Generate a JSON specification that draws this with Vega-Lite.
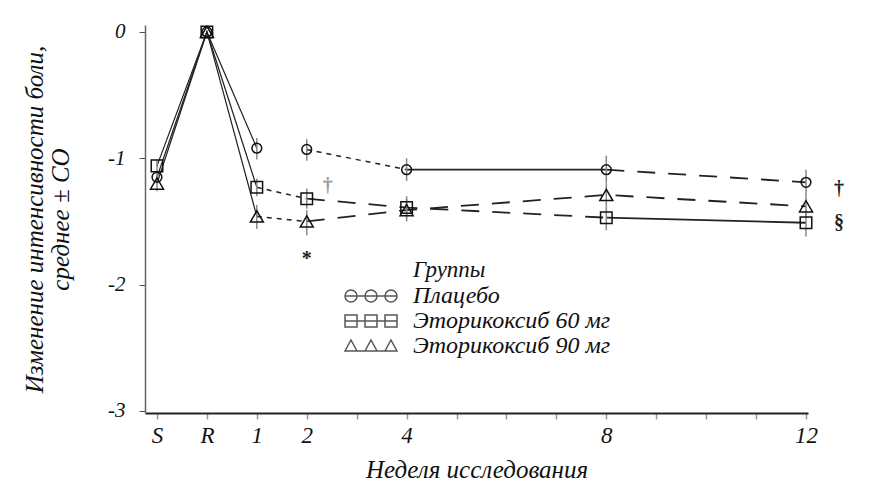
{
  "$schema": "https://vega.github.io/schema/vega-lite/v6.json",
  "autosize": "none",
  "width": 663,
  "height": 388,
  "padding": {"left": 145, "top": 25, "right": 62, "bottom": 80},
  "background": "white",
  "config": {
    "font": "Liberation Serif",
    "view": {"stroke": null},
    "axis": {"labelFont": "Liberation Serif", "titleFont": "Liberation Serif", "labelFontStyle": "italic", "titleFontStyle": "italic", "titleFontWeight": "normal", "labelColor": "#111", "titleColor": "#111", "grid": false},
    "legend": {"labelFont": "Liberation Serif", "titleFont": "Liberation Serif"}
  },
  "datasets": {
    "pts": [
      {"group": "Плацебо", "week": "S", "idx": 0, "value": -1.15, "lo": -1.2, "hi": -1.1},
      {"group": "Плацебо", "week": "R", "idx": 1, "value": 0, "lo": 0, "hi": 0},
      {"group": "Плацебо", "week": "1", "idx": 2, "value": -0.92, "lo": -1.01, "hi": -0.84},
      {"group": "Плацебо", "week": "2", "idx": 3, "value": -0.93, "lo": -1.02, "hi": -0.85},
      {"group": "Плацебо", "week": "4", "idx": 5, "value": -1.09, "lo": -1.18, "hi": -1.0},
      {"group": "Плацебо", "week": "8", "idx": 9, "value": -1.09, "lo": -1.2, "hi": -0.98},
      {"group": "Плацебо", "week": "12", "idx": 13, "value": -1.19, "lo": -1.3, "hi": -1.09},
      {"group": "Эторикоксиб 60 мг", "week": "S", "idx": 0, "value": -1.06, "lo": -1.11, "hi": -1.01},
      {"group": "Эторикоксиб 60 мг", "week": "R", "idx": 1, "value": 0, "lo": 0, "hi": 0},
      {"group": "Эторикоксиб 60 мг", "week": "1", "idx": 2, "value": -1.23, "lo": -1.3, "hi": -1.16},
      {"group": "Эторикоксиб 60 мг", "week": "2", "idx": 3, "value": -1.32, "lo": -1.4, "hi": -1.24},
      {"group": "Эторикоксиб 60 мг", "week": "4", "idx": 5, "value": -1.39, "lo": -1.48, "hi": -1.3},
      {"group": "Эторикоксиб 60 мг", "week": "8", "idx": 9, "value": -1.47, "lo": -1.57, "hi": -1.38},
      {"group": "Эторикоксиб 60 мг", "week": "12", "idx": 13, "value": -1.51, "lo": -1.62, "hi": -1.41},
      {"group": "Эторикоксиб 90 мг", "week": "S", "idx": 0, "value": -1.2, "lo": -1.26, "hi": -1.14},
      {"group": "Эторикоксиб 90 мг", "week": "R", "idx": 1, "value": 0, "lo": 0, "hi": 0},
      {"group": "Эторикоксиб 90 мг", "week": "1", "idx": 2, "value": -1.46, "lo": -1.56, "hi": -1.37},
      {"group": "Эторикоксиб 90 мг", "week": "2", "idx": 3, "value": -1.5, "lo": -1.61, "hi": -1.41},
      {"group": "Эторикоксиб 90 мг", "week": "4", "idx": 5, "value": -1.41, "lo": -1.5, "hi": -1.32},
      {"group": "Эторикоксиб 90 мг", "week": "8", "idx": 9, "value": -1.29, "lo": -1.38, "hi": -1.2},
      {"group": "Эторикоксиб 90 мг", "week": "12", "idx": 13, "value": -1.38, "lo": -1.47, "hi": -1.3}
    ],
    "notes": [
      {"x": 3.42, "y": -1.22, "label": "†", "kind": "grey"},
      {"x": 3.0, "y": -1.8, "label": "*", "kind": "black"},
      {"x": 13.66, "y": -1.24, "label": "†", "kind": "black"},
      {"x": 13.66, "y": -1.51, "label": "§", "kind": "black"}
    ]
  },
  "data": {"name": "pts"},
  "encoding": {
    "x": {
      "field": "idx", "type": "quantitative",
      "scale": {"domain": [-0.24, 13.04], "nice": false, "zero": false},
      "axis": {
        "title": "Неделя исследования", "titleFontSize": 25, "titlePadding": 10,
        "values": [0,1,2,3,4,5,6,7,8,9,10,11,12,13],
        "labelExpr": "datum.value == 0 ? 'S' : datum.value == 1 ? 'R' : datum.value == 2 ? '1' : datum.value == 3 ? '2' : datum.value == 5 ? '4' : datum.value == 9 ? '8' : datum.value == 13 ? '12' : ''",
        "labelFontSize": 23, "labelPadding": 5, "tickSize": 6, "tickColor": "#999", "tickWidth": 1.5,
        "domainColor": "#222", "domainWidth": 2, "labelFlush": false, "labelOverlap": false
      }
    },
    "y": {
      "field": "value", "type": "quantitative",
      "scale": {"domain": [-3.016, 0.055], "nice": false, "zero": false},
      "axis": {
        "title": ["Изменение интенсивности боли,", "среднее ± СО"], "titleFontSize": 25, "titleLineHeight": 26, "titlePadding": 34,
        "values": [0, -1, -2, -3], "labelFontSize": 21, "labelPadding": 14,
        "labelExpr": "datum.value == 0 ? '0' : '-' + abs(datum.value)",
        "tickSize": 6, "tickColor": "#555", "domainColor": "#666", "domainWidth": 1.5, "labelFlush": false
      }
    }
  },
  "layer": [
    {
      "transform": [{"filter": "datum.idx <= 2"}],
      "mark": {"type": "line", "color": "#222", "strokeWidth": 1.2},
      "encoding": {"detail": {"field": "group"}}
    },
    {
      "transform": [{"filter": "(datum.group == 'Плацебо' && datum.idx >= 3 && datum.idx <= 5) || (datum.group != 'Плацебо' && datum.idx >= 2 && datum.idx <= 3)"}],
      "mark": {"type": "line", "color": "#222", "strokeWidth": 1.5, "strokeDash": [5, 5]},
      "encoding": {"detail": {"field": "group"}}
    },
    {
      "transform": [{"filter": "(datum.group == 'Плацебо' && datum.idx >= 5 && datum.idx <= 9) || (datum.group == 'Эторикоксиб 60 мг' && datum.idx >= 9)"}],
      "mark": {"type": "line", "color": "#222", "strokeWidth": 1.8},
      "encoding": {"detail": {"field": "group"}}
    },
    {
      "transform": [{"filter": "(datum.group == 'Плацебо' && datum.idx >= 9) || (datum.group == 'Эторикоксиб 60 мг' && datum.idx >= 3 && datum.idx <= 9) || (datum.group == 'Эторикоксиб 90 мг' && datum.idx >= 3)"}],
      "mark": {"type": "line", "color": "#222", "strokeWidth": 1.8, "strokeDash": [18, 13]},
      "encoding": {"detail": {"field": "group"}}
    },
    {
      "mark": {"type": "rule", "color": "#888", "strokeWidth": 1.5},
      "encoding": {"y": {"field": "lo", "type": "quantitative"}, "y2": {"field": "hi"}}
    },
    {
      "mark": {"type": "point", "filled": false, "color": "#111", "strokeWidth": 1.5, "opacity": 1},
      "encoding": {
        "shape": {"field": "group", "type": "nominal", "scale": {"domain": ["Плацебо", "Эторикоксиб 60 мг", "Эторикоксиб 90 мг"], "range": ["circle", "square", "triangle-up"]}, "legend": null},
        "size": {"field": "group", "type": "nominal", "scale": {"domain": ["Плацебо", "Эторикоксиб 60 мг", "Эторикоксиб 90 мг"], "range": [95, 170, 110]}, "legend": null}
      }
    },
    {
      "transform": [{"filter": "false"}],
      "mark": {"type": "point", "filled": false, "color": "#111", "strokeWidth": 1.5},
      "encoding": {
        "shape": {
          "field": "group", "type": "nominal",
          "scale": {
            "domain": ["Плацебо", "Эторикоксиб 60 мг", "Эторикоксиб 90 мг"],
            "range": [
              "M-6.8,0A0.6,0.6,0,1,1,-8,0A0.6,0.6,0,1,1,-6.8,0Z M-4.8,0A0.6,0.6,0,1,1,-6,0A0.6,0.6,0,1,1,-4.8,0Z M-2.8,0A0.6,0.6,0,1,1,-4,0A0.6,0.6,0,1,1,-2.8,0Z M-8,0L-2.8,0",
              "M-8,-0.6H-6.8V0.6H-8Z M-6,-0.6H-4.8V0.6H-6Z M-4,-0.6H-2.8V0.6H-4Z M-8,0H-2.8",
              "M-7.4,-0.6L-6.8,0.5L-8,0.5Z M-5.4,-0.6L-4.8,0.5L-6,0.5Z M-3.4,-0.6L-2.8,0.5L-4,0.5Z M-8,0.5H-2.8"
            ]
          },
          "legend": {
            "orient": "none", "legendX": 268, "legendY": 234,
            "title": "Группы", "titleFontSize": 23, "titleFontStyle": "italic", "titleFontWeight": "normal", "titleColor": "#111",
            "labelFontSize": 24, "labelFontStyle": "italic", "labelColor": "#111", "labelOffset": -24, "labelLimit": 400,
            "symbolSize": 400, "symbolStrokeWidth": 1.5, "symbolStrokeColor": "#111", "symbolFillColor": "white",
            "rowPadding": 1, "titlePadding": 2
          }
        }
      }
    },
    {
      "data": {"name": "notes"},
      "mark": {"type": "text", "fontSize": 20, "font": "Liberation Serif", "fontWeight": "bold"},
      "encoding": {
        "x": {"field": "x", "type": "quantitative"},
        "y": {"field": "y", "type": "quantitative"},
        "text": {"field": "label"},
        "color": {"field": "kind", "type": "nominal", "scale": {"domain": ["grey", "black"], "range": ["#999", "#222"]}, "legend": null}
      }
    }
  ],
  "resolve": {"scale": {"shape": "independent"}}
}
